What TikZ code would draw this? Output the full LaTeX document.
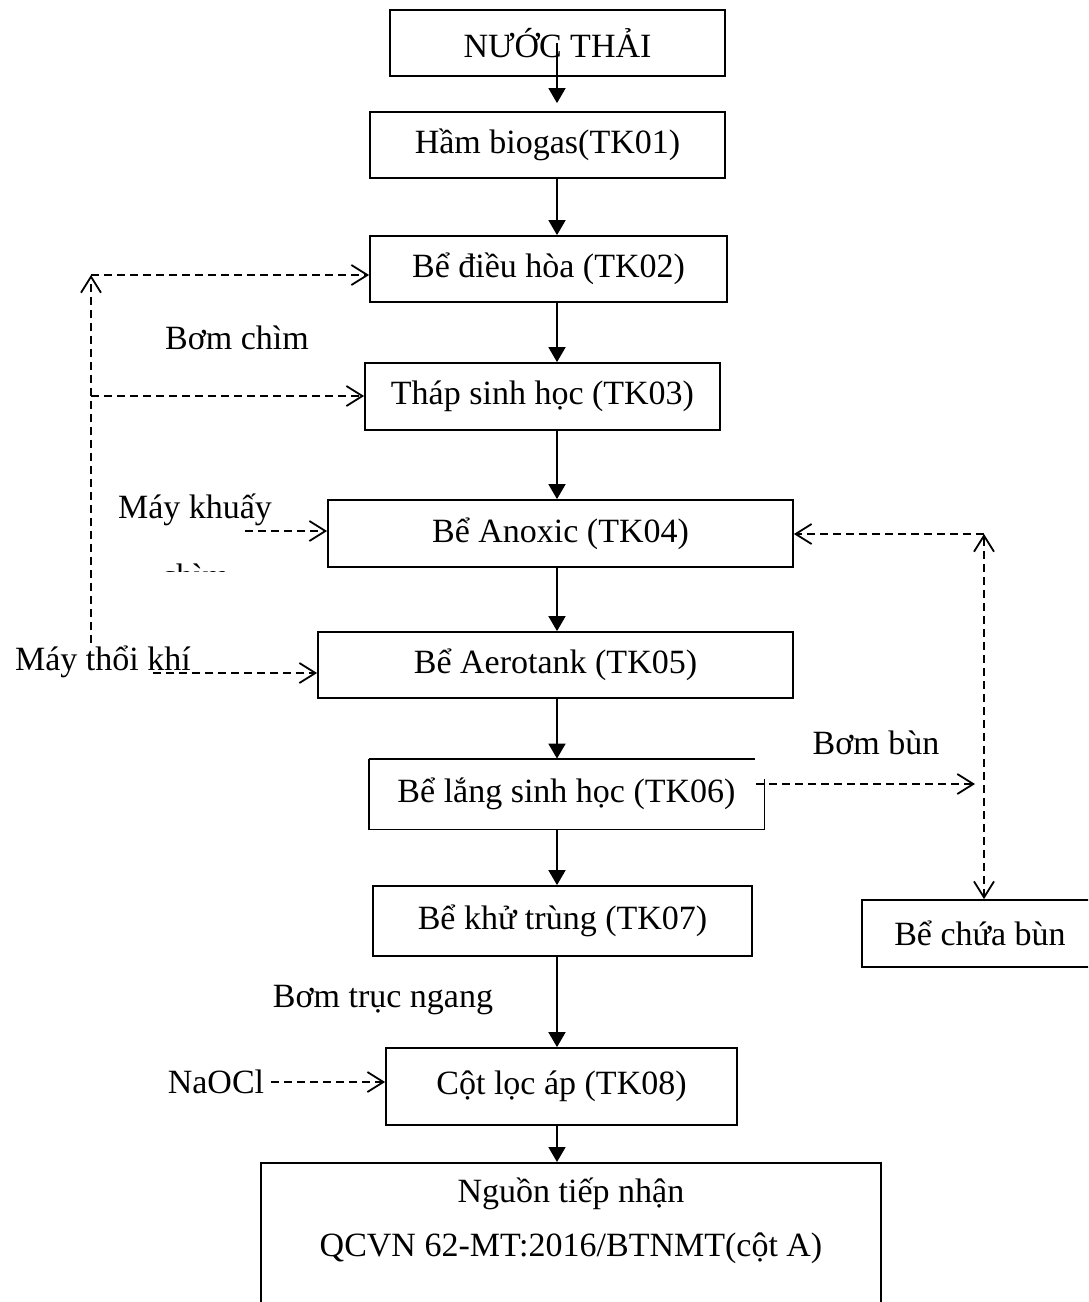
\documentclass[tikz,border=0pt]{standalone}
\usepackage{fontspec}
\setmainfont{Liberation Serif}
\usetikzlibrary{arrows.meta}

\begin{document}
\begin{tikzpicture}[
        x=0.5pt, y=-0.5pt,
        every node/.style={font=\fontsize{17}{20}\selectfont},
        box/.style={draw, line width=0.9pt, inner sep=0pt},
        flow/.style={line width=0.9pt, -{Triangle[length=7.5pt,width=8.5pt]}},
        dflow/.style={line width=0.9pt, dash pattern=on 4pt off 2.5pt, -{Straight Barb[length=8pt,width=10pt]}}
    ]
	\useasboundingbox (0,0) rectangle (1088,1302);
	\clip (0,0) rectangle (1088,1302);
	\coordinate (axis) at (557,0);
	% main line
	\node[box, minimum width=167.5pt, minimum height=33pt] (nuoc) at (557.5,43) {NƯỚC THẢI};
	\node[box, minimum width=177.5pt, minimum height=33pt] (tk01) at (547.5,145) {Hầm biogas(TK01)};
	\node[box, minimum width=178.5pt, minimum height=33pt] (tk02) at (548.5,269) {Bể điều hòa (TK02)};
	\node[box, minimum width=177.5pt, minimum height=33.5pt] (tk03) at (542.5,396.5) {Tháp sinh học (TK03)};
	\node[box, minimum width=232.5pt, minimum height=33.5pt] (tk04) at (560.5,533.5) {Bể Anoxic (TK04)};
	\node[box, minimum width=237.5pt, minimum height=33pt] (tk05) at (555.5,665) {Bể Aerotank (TK05)};
	\node[minimum width=197.5pt, minimum height=35pt, inner sep=0pt] (tk06) at (566.5,794) {Bể lắng sinh học (TK06)};
	\draw[line width=0.9pt] (tk06.north west) -- ([xshift=-4.5pt]tk06.north east);
	\draw[line width=0.9pt] ([yshift=-10pt]tk06.north east) -- (tk06.south east) -- (tk06.south west) -- (tk06.north west);
	\node[box, minimum width=189.5pt, minimum height=35pt] (tk07) at (562.5,921) {Bể khử trùng (TK07)};
	\node[box, minimum width=175.5pt, minimum height=38.5pt] (tk08) at (561.5,1086.5) {Cột lọc áp (TK08)};
	\node[box, anchor=north, minimum width=310pt, minimum height=100pt] (nguon) at (571,1162) {};
	\node (nguon1) at (571,1194) {Nguồn tiếp nhận};
	\node (nguon2) at (571,1248) {QCVN 62-MT:2016/BTNMT(cột A)};
	\node[box, minimum width=118pt, minimum height=33.5pt] (chua) at (980,933.5) {Bể chứa bùn};

	\draw[flow, shorten >=4pt] (axis |- nuoc.center) -- (axis |- tk01.north);
	\foreach \a/\b in {tk01/tk02, tk02/tk03, tk03/tk04, tk04/tk05, tk05/tk06, tk06/tk07, tk07/tk08, tk08/nguon}
		{
		   \draw[flow] (axis |- \a.south) -- (axis |- \b.north);
		};

	% left side
	\coordinate (lt) at (91,275);
	\coordinate (lm) at (91,396);
	\coordinate (lb) at (91,643);
	\draw[dflow] (lb) -- (lt);
	\draw[dflow] (lt) -- (lt -| tk02.west);
	\draw[dflow] (lm) -- (lm -| tk03.west);
	\node (bomchim) at (237,338) {Bơm chìm};
	\node (khuay) at (195,510) {Máy khuấy};
	\begin{scope}
		\clip (100,550) rectangle (300,571);
		\node[anchor=base] (chim) at (195,587) {chìm};
	\end{scope}
	\coordinate (k1) at (245,531);
	\draw[dflow] (k1) -- (k1 -| tk04.west);
	\node (thoi) at (103,662) {Máy thổi khí};
	\coordinate (t1) at (153,673);
	\draw[dflow] (t1) -- (t1 -| tk05.west);
	\node (bomtruc) at (383,1000) {Bơm trục ngang};
	\node (naocl) at (216,1082) {NaOCl};
	\draw[dflow] (naocl.east) -- (naocl.east -| tk08.west);

	% right side
	\coordinate (rt) at (984,534);
	\draw[dflow] (rt) -- (rt -| tk04.east);
	\draw[dflow, {Straight Barb[length=8pt,width=10pt]}-{Straight Barb[length=8pt,width=10pt]}] (rt |- chua.north) -- (rt);
	\node (bombun) at (876,743) {Bơm bùn};
	\coordinate (bt) at (975,784);
	\draw[dflow, shorten <=-4pt] (tk06.east |- bt) -- (bt);
\end{tikzpicture}
\end{document}
